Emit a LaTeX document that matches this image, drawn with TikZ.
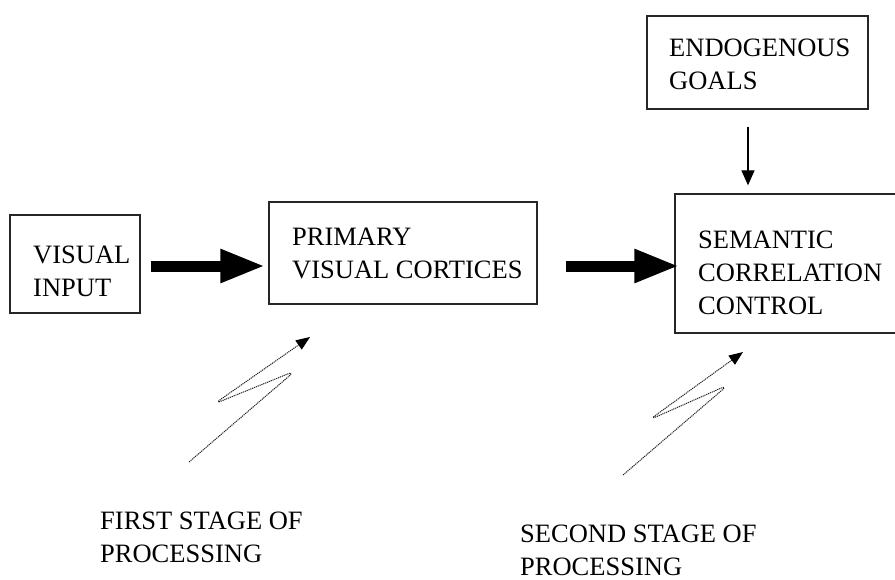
\documentclass[tikz,border=0pt]{standalone}
\usepackage{fontspec}
\setmainfont{Liberation Serif}
\usetikzlibrary{arrows.meta}
\tikzset{
  box/.style={draw=black!85, line width=1.3pt, rectangle, inner sep=0pt},
  lbl/.style={inner sep=0pt, anchor=base west, font=\fontsize{26.5}{33}\selectfont},
  thickarrow/.style={line width=11pt, line cap=butt, -{Triangle[length=45pt,width=31pt]}},
  thinarrow/.style={line width=1.2pt, -{Triangle[length=15pt,width=13pt]}},
  zig/.style={draw=black!85, line width=1pt, dash pattern=on 1.2pt off 0.8pt, rounded corners=8pt, -{Triangle[length=14pt,width=11pt,color=black]}}
}
\newcommand{\twolines}[1]{\parbox[t]{9cm}{#1}}
\begin{document}
\begin{tikzpicture}[x=1pt,y=-1pt]
\useasboundingbox (0,0) rectangle (895,579);
% boxes
\node[box, minimum width=130pt, minimum height=98pt] (vin) at (75,264) {};
\node[box, minimum width=268pt, minimum height=102pt] (pvc) at (403,253) {};
\node[box, minimum width=235pt, minimum height=139pt] (scc) at (792.5,263.5) {};
\node[box, minimum width=221pt, minimum height=93pt] (eg) at (757.5,62.5) {};
% texts
\node[lbl] (tvin) at (33,263) {\twolines{VISUAL\\INPUT}};
\node[lbl] (tpvc) at (292,245) {\twolines{PRIMARY\\VISUAL CORTICES}};
\node[lbl] (tscc) at (698,248) {\twolines{SEMANTIC\\CORRELATION\\CONTROL}};
\node[lbl] (teg) at (669,56) {\twolines{ENDOGENOUS\\GOALS}};
\node[lbl] (tfirst) at (100,529) {\twolines{FIRST STAGE OF\\PROCESSING}};
\node[lbl] (tsecond) at (520,542) {\twolines{SECOND STAGE OF\\PROCESSING}};
% thick arrows
\coordinate (ay) at (0,266);
\draw[thickarrow, shorten <=10pt, shorten >=3pt] (vin.east |- ay) -- (pvc.west |- ay);
\draw[thickarrow, shorten <=28pt, shorten >=-5pt] (pvc.east |- ay) -- (scc.west |- ay);
% down arrow
\draw[thinarrow, shorten <=17pt, shorten >=8pt] ([xshift=-9.5pt]eg.south) -- ([xshift=-9.5pt]eg.south |- scc.north);
% zigzag arrows
\coordinate (z1s) at (189,462);
\coordinate (z1a) at (295,371);
\coordinate (z1b) at (214,404);
\coordinate (z1t) at (310,337);
\draw[zig] (z1s) -- (z1a) -- (z1b) -- (z1t);
\coordinate (z2s) at (623,475);
\coordinate (z2a) at (728,385);
\coordinate (z2b) at (649,420);
\coordinate (z2t) at (743,352);
\draw[zig] (z2s) -- (z2a) -- (z2b) -- (z2t);
\end{tikzpicture}
\end{document}
